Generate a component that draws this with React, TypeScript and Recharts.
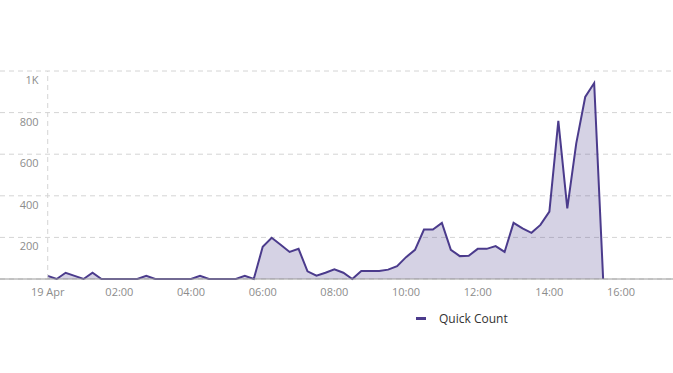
import { AreaChart, Area, XAxis, YAxis, CartesianGrid, Legend, ReferenceLine } from "recharts"

// counts per 15-minute bucket, starting 19 Apr 00:00
const quickCount = [
  15, 0, 30, 15, 0, 30, 0, 0, 0, 0, 0, 15, 0, 0, 0, 0,
  0, 15, 0, 0, 0, 0, 15, 0, 155, 198, 165, 130, 145, 37, 16, 30,
  46, 30, 0, 38, 38, 38, 45, 62, 105, 140, 238, 238, 270, 140, 110, 112,
  145, 145, 158, 130, 270, 243, 222, 260, 324, 760, 340, 652, 875, 942, 0,
]
const stepHours = 0.25
const xTicks = [0, 2, 4, 6, 8, 10, 12, 14, 16]
const yTicks = [0, 200, 400, 600, 800, 1000]

const data = quickCount.map((count, i) => ({ t: i * stepHours, count }))

const FONT = "'Open Sans', 'Noto Sans', sans-serif"
const LINE = "#4b3b8c"

const formatX = (h: number) => (h === 0 ? "19 Apr" : `${String(h).padStart(2, "0")}:00`)
const formatY = (v: number) => (v === 0 ? "" : v >= 1000 ? `${v / 1000}K` : `${v}`)

function YTick({ y, payload }: any) {
  const label = formatY(payload.value)
  if (!label) return null
  return (
    <text x={38.5} y={y + 13} textAnchor="end" fontSize={11} fill="#8c8c8c" stroke="none" fontFamily={FONT}>
      {label}
    </text>
  )
}

function LegendContent({ payload }: any) {
  return (
    <div style={{ display: "flex", alignItems: "center", fontFamily: FONT, fontSize: 12, color: "#333" }}>
      {(payload || []).map((p: any) => (
        <div key={p.value} style={{ display: "flex", alignItems: "center" }}>
          <span style={{ width: 10, height: 3, background: LINE, display: "inline-block", marginRight: 13 }} />
          <span>{p.value}</span>
        </div>
      ))}
    </div>
  )
}

export default function App() {
  return (
    <div style={{ width: 673, height: 373 }}>
      <style>{`body{margin:0}`}</style>
      <AreaChart width={673} height={373} data={data} margin={{ top: 71, right: 0, bottom: 64, left: 0 }}>
        <CartesianGrid vertical={false} stroke="#d4d4d4" strokeDasharray="5 4" />
        <XAxis
          type="number"
          dataKey="t"
          domain={[-1.332, 17.45]}
          allowDataOverflow
          ticks={xTicks}
          tickFormatter={formatX}
          tickLine={false}
          tickMargin={3}
          height={30}
          axisLine={{ stroke: "#9a9a9a" }}
          tick={{ fontSize: 11, fill: "#8c8c8c", fontFamily: FONT }}
        />
        <YAxis
          mirror
          width={40}
          domain={[0, 1000]}
          ticks={yTicks}
          axisLine={false}
          tickLine={false}
          tick={<YTick />}
        />
        <ReferenceLine x={0} stroke="#d4d4d4" strokeDasharray="5 4" />
        <Legend
          verticalAlign="middle"
          align="center"
          content={<LegendContent />}
          wrapperStyle={{ top: 310, left: 416, width: "auto" }}
        />
        <Area
          type="linear"
          dataKey="count"
          name="Quick Count"
          stroke={LINE}
          strokeWidth={2}
          fill={LINE}
          fillOpacity={0.23}
          isAnimationActive={false}
        />
      </AreaChart>
    </div>
  )
}
